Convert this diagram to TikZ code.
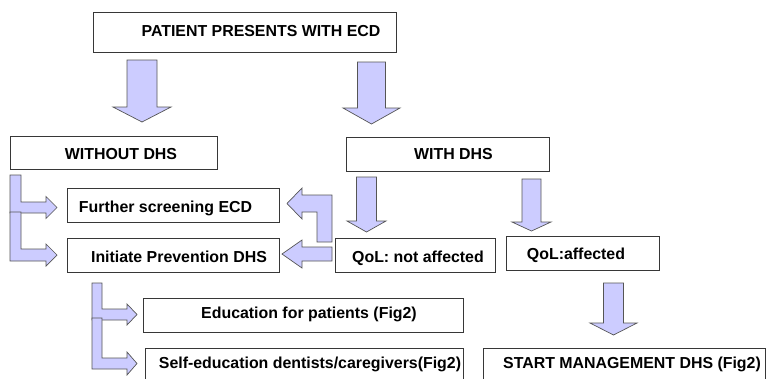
\documentclass[tikz,border=0pt]{standalone}
\usepackage{fontspec}
\setmainfont{Liberation Sans}
\definecolor{arrowlav}{RGB}{204,204,255}
\definecolor{edgegray}{RGB}{55,55,55}
\tikzset{box/.style={draw=edgegray, line width=0.9pt, inner sep=0pt},
  txt/.style={anchor=base, inner sep=0pt, font=\fontsize{15.9}{18}\selectfont\bfseries},
  blockarr/.style={fill=arrowlav, draw=edgegray!85, line width=0.7pt, line join=miter}}
\newcommand{\dnarrow}[6]{\filldraw[blockarr] (#1-#5,#2) -- (#1+#5,#2) -- (#1+#5,#3) -- (#1+#6,#3) -- (#1,#4) -- (#1-#6,#3) -- (#1-#5,#3) -- cycle;}
\newcommand{\elbow}[8]{\filldraw[blockarr] (#1,#3) -- (#2,#3) -- (#2,#4-#5) -- (#7,#4-#5) -- (#7,#4-#6) -- (#8,#4) -- (#7,#4+#6) -- (#7,#4+#5) -- (#1,#4+#5) -- cycle;}

\begin{document}
\begin{tikzpicture}[x=1pt,y=-1pt]
\useasboundingbox (0,0) rectangle (766,378); \clip (0,0) rectangle (766,378);
\node[box, minimum width=303, minimum height=40] (ecd) at (244.5,32) {};
\node[box, minimum width=207, minimum height=33] (wo) at (113.5,152.5) {};
\node[box, minimum width=203, minimum height=34] (wi) at (447.5,154) {};
\node[box, minimum width=212, minimum height=34] (fs) at (173,205) {};
\node[box, minimum width=212, minimum height=34] (ip) at (173,255) {};
\node[box, minimum width=160, minimum height=34] (qn) at (415,255) {};
\node[box, minimum width=153, minimum height=34] (qa) at (583,253) {};
\node[box, minimum width=320, minimum height=34] (ed) at (303,315) {};
\node[box, minimum width=318, minimum height=34] (se) at (304,365) {};
\node[box, minimum width=282, minimum height=34] (sm) at (624,365) {};
\node[txt] (ecdt) at (261,36) {PATIENT PRESENTS WITH ECD};
\node[txt] (wot) at (121,159) {WITHOUT DHS};
\node[txt] (wit) at (453.5,159.5) {WITH DHS};
\node[txt] (fst) at (165.5,212) {Further screening ECD};
\node[txt] (ipt) at (179,262.5) {Initiate Prevention DHS};
\node[txt] (qnt) at (418,262.5) {QoL: not affected};
\node[txt] (qat) at (576,259) {QoL:affected};
\node[txt] (edt) at (309,318.5) {Education for patients (Fig2)};
\node[txt] (set) at (310,368.5) {Self-education dentists/caregivers(Fig2)};
\node[txt] (smt) at (632,368) {START MANAGEMENT DHS (Fig2)};
\dnarrow{142}{60}{107}{122}{15}{29} \dnarrow{371.5}{62}{108}{124}{14}{28.5}
\dnarrow{366.5}{177}{221}{232}{10}{19.5} \dnarrow{531.5}{179}{222}{231}{9.5}{19.5}
\dnarrow{613.5}{283}{323}{335}{10}{23.5}
\elbow{10}{21}{175}{207.5}{5.5}{11}{46}{57} \elbow{10}{21}{212}{255}{6}{11}{46}{57}
\elbow{92}{102}{283}{314.5}{5.5}{10.5}{127}{137} \elbow{92}{102}{318}{363.5}{5.5}{11.5}{127}{137}
\filldraw[blockarr] (332,242) -- (332,195) -- (302,195) -- (302,188) -- (287,203.5) -- (302,219) -- (302,212) -- (317,212) -- (317,242) -- cycle;
\filldraw[blockarr] (332,247) -- (302,247) -- (302,240) -- (282,254) -- (302,268) -- (302,261) -- (332,261) -- cycle;
\end{tikzpicture}
\end{document}
